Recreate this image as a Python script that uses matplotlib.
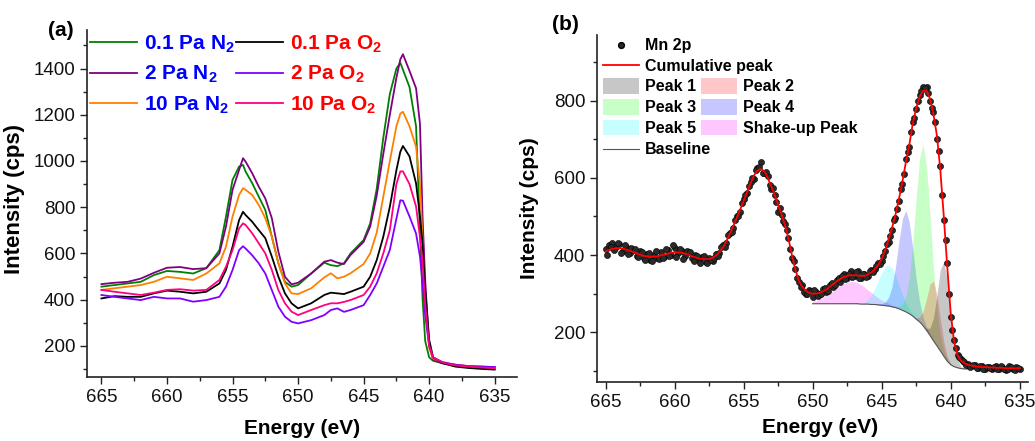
import numpy as np
import matplotlib
matplotlib.use("Agg")
import matplotlib.pyplot as plt
from matplotlib.ticker import MultipleLocator
from matplotlib.patches import Patch
from matplotlib.lines import Line2D

plt.rcParams['font.family'] = ['Liberation Sans', 'DejaVu Sans']
plt.rcParams['mathtext.fontset'] = 'custom'
plt.rcParams['mathtext.rm'] = 'Liberation Sans'
plt.rcParams['mathtext.bf'] = 'Liberation Sans:bold'

# ---------------- Panel (a) data ----------------
energy_a = [665, 664, 663, 662, 661, 660, 659, 658, 657, 656,
            655.5, 655, 654.5, 654.2, 654, 653.5, 653, 652.5, 652, 651.5,
            651, 650.5, 650, 649, 648, 647.5, 647, 646.5, 646, 645,
            644.5, 644, 643.5, 643, 642.5, 642.2, 642, 641.5, 641, 640.7,
            640.5, 640.3, 640, 639.7, 639, 638, 637, 636, 635]

n2_01 = [456, 463, 470, 477, 506, 524, 520, 513, 536, 614,
         759, 918, 976, 983, 954, 904, 846, 788, 672, 557,
         477, 456, 463, 513, 560, 549, 545, 557, 600, 658,
         730, 880, 1100, 1290, 1400, 1425, 1395, 1320, 1150, 700,
         400, 220, 150, 135, 125, 115, 110, 105, 102]
n2_2 = [467, 473, 477, 491, 516, 538, 541, 532, 536, 600,
        716, 875, 961, 1012, 997, 947, 889, 838, 752, 607,
        499, 466, 473, 513, 564, 571, 560, 554, 593, 650,
        716, 850, 1030, 1200, 1360, 1440, 1462, 1390, 1315, 1160,
        750, 480, 200, 140, 125, 118, 112, 110, 108]
n2_10 = [442, 449, 456, 463, 477, 499, 492, 485, 513, 557,
         629, 759, 853, 882, 875, 853, 810, 752, 672, 557,
         470, 427, 424, 449, 496, 514, 492, 499, 514, 554,
         600, 690, 845, 1000, 1150, 1205, 1213, 1150, 1062, 900,
         650, 400, 190, 145, 128, 118, 112, 108, 105]
o2_01 = [405, 415, 412, 412, 427, 439, 434, 427, 434, 470,
         528, 629, 744, 780, 766, 737, 701, 666, 586, 499,
         427, 384, 362, 384, 420, 430, 427, 424, 434, 456,
         499, 571, 672, 802, 960, 1040, 1065, 1020, 903, 760,
         640, 441, 226, 150, 125, 110, 104, 100, 97]
o2_2 = [420, 412, 405, 398, 412, 405, 405, 391, 398, 412,
        456, 528, 614, 631, 621, 592, 557, 513, 441, 369,
        326, 304, 297, 311, 333, 355, 362, 347, 355, 376,
        420, 470, 542, 615, 750, 830, 828, 760, 686, 586,
        470, 330, 200, 150, 130, 118, 112, 110, 108]
o2_10 = [442, 434, 427, 420, 430, 442, 445, 439, 442, 485,
         542, 614, 708, 730, 723, 687, 644, 600, 528, 441,
         384, 348, 333, 355, 376, 384, 384, 390, 398, 420,
         456, 514, 600, 701, 900, 955, 955, 900, 803, 670,
         560, 380, 200, 150, 128, 115, 110, 106, 103]

series_a = [
    (n2_01, '#008000', r'0.1 Pa N$_\mathbf{2}$', '#0000FF'),
    (n2_2, '#800080', r'2 Pa N$_\mathbf{2}$', '#0000FF'),
    (n2_10, '#FF8000', r'10 Pa N$_\mathbf{2}$', '#0000FF'),
    (o2_01, '#000000', r'0.1 Pa O$_\mathbf{2}$', '#FF0000'),
    (o2_2, '#8000FF', r'2 Pa O$_\mathbf{2}$', '#FF0000'),
    (o2_10, '#FF0080', r'10 Pa O$_\mathbf{2}$', '#FF0000'),
]

# ---------------- Panel (b) data ----------------
energy_b = np.linspace(665, 635, 121)          # 0.25 eV steps
energy_b_mid = np.linspace(664.875, 635.125, 120)  # points in between
mn2p = [415, 425, 430, 420,  428, 410, 420, 405,  412, 398, 410, 392,
        402, 388, 400, 393,  408, 396, 412, 400,  418, 405, 410, 398,
        408, 392, 400, 386,  395, 382, 392, 385,  402, 405, 425, 430,
        458, 470, 500, 512,  545, 560, 590, 598,  625, 640, 612, 605,
        570, 555, 512, 505,  480, 445, 392, 365,  330, 322, 300, 310,
        292, 305, 298, 312,  305, 322, 318, 335,  330, 350, 340, 358,
        345, 360, 340, 352,  345, 362, 365, 380,  385, 410, 435, 465,
        495, 540, 585, 650,  680, 745, 778, 815,  835, 835, 800, 770,
        700, 630, 490, 380,  240, 180, 140, 130,  122, 118, 112, 115,
        108, 112, 106, 110,  104, 112, 105, 110,  102, 112, 104, 110,
        105]
mn2p_mid = [400, 422, 412, 432,  405, 425, 402, 418,  415, 395, 408, 388,
            405, 385, 410, 390,  392, 415, 398, 425,  395, 415, 390, 410,
            408, 385, 398, 380,  398, 380, 388, 392,  398, 420, 422, 452,
            460, 490, 502, 535,  555, 580, 600, 620,  628, 612, 615, 582,
            575, 538, 522, 488,  465, 415, 385, 340,  318, 305, 298, 308,
            310, 295, 300, 315,  308, 328, 322, 340,  345, 338, 352, 342,
            355, 340, 350, 342,  358, 355, 372, 378,  398, 428, 450, 490,
            520, 572, 610, 668,  718, 755, 800, 825,  832, 820, 780, 745,
            670, 555, 440, 300,  205, 160, 135, 125,  114, 110, 116, 108,
            113, 105, 111, 107,  110, 104, 112, 106,  104, 111, 103, 108]
cumulative = [409, 413, 416, 418,  418, 417, 414, 411,  408, 404, 401, 398,
              397, 396, 396, 397,  399, 401, 404, 406,  407, 407, 406, 404,
              401, 397, 394, 391,  390, 389, 390, 393,  399, 408, 420, 436,
              455, 475, 496, 518,  540, 563, 586, 606,  619, 623, 617, 600,
              578, 556, 530, 505,  478, 442, 400, 362,  333, 318, 308, 302,
              300, 300, 302, 306,  311, 318, 325, 332,  338, 343, 346, 348,
              348, 347, 346, 346,  350, 355, 363, 375,  390, 412, 440, 470,
              505, 545, 590, 640,  685, 740, 780, 810,  825, 826, 805, 765,
              710, 620, 500, 370,  250, 175, 140, 126,  120, 116, 114, 112,
              111, 110, 110, 109,  109, 108, 108, 108,  107, 107, 107, 107,
              107]

energy_fit = np.linspace(650, 638, 49)  # 0.25 eV steps
baseline = [274, 274, 274, 274,  274, 274, 274, 274,  274, 274, 274, 274,
            274, 274, 273, 273,  273, 272, 272, 271,  270, 269, 268, 266,
            264, 261, 257, 253,  248, 242, 234, 227,  217, 205, 192, 178,
            165, 152, 138, 125,  116, 111, 108, 106,  105, 105, 105, 105,
            105]
peak1 = [0, 0, 0, 0,  0, 0, 0, 0,  0, 0, 0, 0,  0, 0, 0, 0,  0, 0, 0, 0,
         0, 0, 0, 0,  0, 0, 0, 0,  0, 0, 0, 0,  0, 5, 19, 58,
         130, 210, 245, 210,  130, 58, 19, 5,  0, 0, 0, 0,  0]
peak2 = [0, 0, 0, 0,  0, 0, 0, 0,  0, 0, 0, 0,  0, 0, 0, 0,  0, 0, 0, 0,
         0, 0, 0, 0,  0, 0, 0, 0,  0, 0, 3, 12,  37, 82, 133, 155,
         133, 82, 37, 12,  3, 0, 0, 0,  0, 0, 0, 0,  0]
peak3 = [0, 0, 0, 0,  0, 0, 0, 0,  0, 0, 0, 0,  0, 0, 0, 0,  0, 0, 0, 0,
         0, 0, 0, 0,  3, 7, 16, 40,  93, 188, 313, 423,  470, 423, 313, 188,
         93, 40, 16, 7,  3, 0, 0, 0,  0, 0, 0, 0,  0]
peak4 = [0, 0, 0, 0,  0, 0, 0, 0,  0, 0, 0, 0,  0, 0, 0, 0,  0, 0, 0, 2,
         4, 9, 22, 52,  105, 175, 237, 263,  237, 175, 105, 52,  22, 9, 4, 2,
         0, 0, 0, 0,  0, 0, 0, 0,  0, 0, 0, 0,  0]
peak5 = [0, 0, 0, 0,  0, 0, 0, 0,  0, 0, 0, 0,  0, 1, 2, 6,  12, 24, 41, 62,
         84, 101, 107, 101,  84, 62, 41, 24,  12, 6, 2, 1,  0, 0, 0, 0,
         0, 0, 0, 0,  0, 0, 0, 0,  0, 0, 0, 0,  0]
shakeup = [6, 8, 12, 16,  22, 28, 34, 41,  47, 53, 56, 58,  57, 55, 50, 44,
           37, 31, 24, 18,  13, 10, 7, 4,  3, 2, 1, 0,  0, 0, 0, 0,
           0, 0, 0, 0,  0, 0, 0, 0,  0, 0, 0, 0,  0, 0, 0, 0,  0]

components = [
    (shakeup, '#FF00FF', 'Shake-up Peak'),
    (peak5, '#00FFFF', 'Peak 5'),
    (peak4, '#0000FF', 'Peak 4'),
    (peak3, '#00FF00', 'Peak 3'),
    (peak2, '#FF0000', 'Peak 2'),
    (peak1, '#000000', 'Peak 1'),
]
FILL_ALPHA = 0.22

# ---------------- Figure ----------------
fig = plt.figure(figsize=(10.35, 4.41), dpi=100)
axa = fig.add_axes([87 / 1035, (441 - 377) / 441, 430 / 1035, 347 / 441])
axb = fig.add_axes([597.3 / 1035, (441 - 381.7) / 441, 430.7 / 1035, 346.7 / 441])


def style_axes(ax):
    for s in ['top', 'right']:
        ax.spines[s].set_visible(False)
    for s in ['left', 'bottom']:
        ax.spines[s].set_linewidth(1.2)
        ax.spines[s].set_color('#222222')
    ax.tick_params(which='both', direction='out', width=1.0, colors='#222222',
                   labelcolor='#111111', labelsize=13.5)
    ax.tick_params(which='major', length=5)
    ax.tick_params(which='minor', length=3)
    ax.set_xticks([665, 660, 655, 650, 645, 640, 635])
    ax.xaxis.set_minor_locator(MultipleLocator(2.5))


# Panel (a)
for vals, col, lab, tcol in series_a:
    axa.plot(energy_a, vals, color=col, lw=1.3, label=lab)
style_axes(axa)
axa.set_xlim(666.1, 633.3)
axa.set_ylim(65, 1567)
axa.set_yticks([200, 400, 600, 800, 1000, 1200, 1400])
axa.yaxis.set_minor_locator(MultipleLocator(100))
axa.set_xlabel('Energy (eV)', fontsize=15, fontweight='bold')
axa.set_ylabel('Intensity (cps)', fontsize=16, fontweight='bold')
axa.xaxis.set_label_coords(0.501, -0.12)
axa.yaxis.set_label_coords(-0.144, 0.513)

leg_a = axa.legend(loc='upper left', bbox_to_anchor=(0.008, 0.99), ncol=2,
                   frameon=False, prop={'weight': 'bold', 'size': 15},
                   handlelength=2.25, handletextpad=0.32, columnspacing=0.05,
                   labelspacing=0.42, borderpad=0, borderaxespad=0)
for t, (_, _, _, tcol) in zip(leg_a.get_texts(), series_a):
    t.set_color(tcol)

# Panel (b)
for vals, col, lab in components:
    top = np.array(baseline) + np.array(vals)
    axb.fill_between(energy_fit, baseline, top, where=np.array(vals) > 0,
                     color=col, alpha=FILL_ALPHA, lw=0, interpolate=True)
axb.plot(energy_fit, baseline, color='#555555', lw=0.8)
axb.plot(energy_b, mn2p, 'o', ms=4.4, mfc='#2a2a2a', mec='#000000', mew=0.4)
axb.plot(energy_b_mid, mn2p_mid, 'o', ms=4.4, mfc='#2a2a2a', mec='#000000',
         mew=0.4)
axb.plot(energy_b, cumulative, color='#FF0000', lw=1.3)
style_axes(axb)
axb.set_xlim(665.6, 634.4)
axb.set_ylim(72, 970)
axb.set_yticks([200, 400, 600, 800])
axb.yaxis.set_minor_locator(MultipleLocator(100))
axb.set_xlabel('Energy (eV)', fontsize=15, fontweight='bold')
axb.set_ylabel('Intensity (cps)', fontsize=15, fontweight='bold')
axb.xaxis.set_label_coords(0.517, -0.105)
axb.yaxis.set_label_coords(-0.135, 0.5)

lprop = {'weight': 'bold', 'size': 11.5}
h1 = [Line2D([], [], ls='none', marker='o', ms=4.2, mfc='#2a2a2a', mec='#000000'),
      Line2D([], [], color='#FF0000', lw=1.3)]
leg1 = axb.legend(h1, ['Mn 2p', 'Cumulative peak'], loc='upper left',
                  bbox_to_anchor=(0.013, 0.99), frameon=False, prop=lprop,
                  handlelength=2.25, handletextpad=0.4, labelspacing=0.35,
                  borderpad=0, borderaxespad=0)
axb.add_artist(leg1)
order = ['Peak 1', 'Peak 3', 'Peak 5', 'Peak 2', 'Peak 4', 'Shake-up Peak']
cmap = {lab: col for _, col, lab in components}
h2 = [Patch(facecolor=cmap[l], alpha=FILL_ALPHA, lw=0) for l in order]
leg2 = axb.legend(h2, order, loc='upper left', bbox_to_anchor=(0.013, 0.875),
                  ncol=2, frameon=False, prop=lprop, handlelength=2.25,
                  handleheight=1.1, handletextpad=0.4, labelspacing=0.3,
                  columnspacing=0.3, borderpad=0, borderaxespad=0)
axb.add_artist(leg2)
h3 = [Line2D([], [], color='#555555', lw=0.8)]
axb.legend(h3, ['Baseline'], loc='upper left', bbox_to_anchor=(0.013, 0.691),
           frameon=False, prop=lprop, handlelength=2.25, handletextpad=0.4,
           borderpad=0, borderaxespad=0)

fig.text(48 / 1035, 1 - 31 / 441, '(a)', fontsize=15, fontweight='bold',
         ha='left', va='center')
fig.text(551.7 / 1035, 1 - 24 / 441, '(b)', fontsize=15, fontweight='bold',
         ha='left', va='center')

fig.savefig('out.png', dpi=100)
